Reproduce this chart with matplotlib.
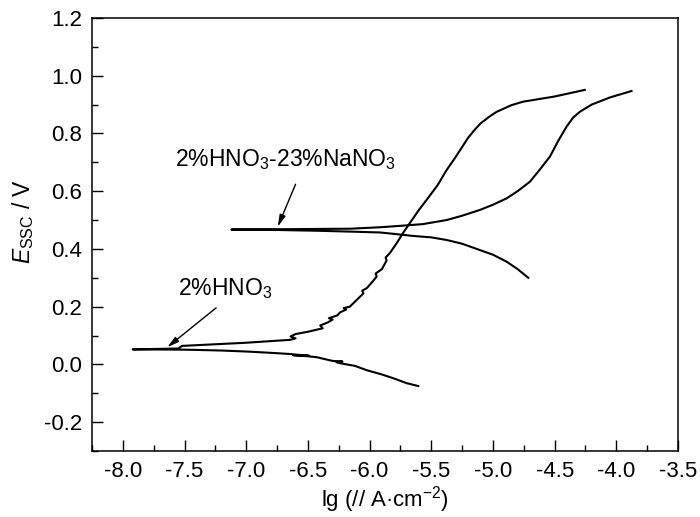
import matplotlib
matplotlib.use('Agg')
import matplotlib.pyplot as plt
from matplotlib.ticker import MultipleLocator, FormatStrFormatter

plt.rcParams['font.family'] = ['Liberation Sans', 'DejaVu Sans']
plt.rcParams['mathtext.fontset'] = 'custom'
plt.rcParams['mathtext.rm'] = 'Liberation Sans'
plt.rcParams['mathtext.it'] = 'Liberation Sans:italic'

# 2%HNO3: cathodic branch (from the end back to Ecorr) then anodic branch
hno3_x = [-5.606, -5.70, -5.808, -5.90, -6.024, -6.12, -6.24, -6.27, -6.22, -6.30,
          -6.43, -6.50, -6.62, -6.49, -6.60, -6.645, -6.80, -6.97, -7.2, -7.5, -7.92,
          -7.55, -7.52, -7.0, -6.645, -6.60, -6.64, -6.60, -6.50, -6.38, -6.40, -6.34,
          -6.30, -6.33, -6.26, -6.24, -6.19, -6.21, -6.16, -6.10, -6.05, -6.06, -6.02,
          -5.97, -5.943, -5.95, -5.90, -5.862, -5.87, -5.835, -5.78, -5.729, -5.673,
          -5.60, -5.511, -5.45, -5.376, -5.30, -5.203, -5.15, -5.10, -5.03, -4.97,
          -4.85, -4.757, -4.50, -4.255]
hno3_y = [-0.075, -0.065, -0.048, -0.035, -0.020, -0.005, 0.004, 0.008, 0.010, 0.012,
          0.025, 0.028, 0.032, 0.030, 0.034, 0.036, 0.040, 0.044, 0.048, 0.051, 0.052,
          0.055, 0.064, 0.075, 0.085, 0.090, 0.097, 0.105, 0.113, 0.125, 0.135, 0.145,
          0.155, 0.160, 0.170, 0.180, 0.190, 0.195, 0.200, 0.225, 0.246, 0.255, 0.265,
          0.290, 0.304, 0.315, 0.330, 0.360, 0.370, 0.386, 0.420, 0.455, 0.490,
          0.535, 0.585, 0.620, 0.673, 0.720, 0.784, 0.812, 0.835, 0.858, 0.875,
          0.898, 0.910, 0.928, 0.951]

# 2%HNO3-23%NaNO3
nano3_x = [-4.714, -4.80, -4.89, -5.0, -5.106, -5.25, -5.376, -5.5, -5.649, -5.80,
           -5.916, -6.16, -6.43, -6.8, -7.12,
           -6.5, -6.16, -5.916, -5.75, -5.567, -5.376, -5.25, -5.106, -5.0, -4.89,
           -4.80, -4.70, -4.62, -4.538, -4.47, -4.403, -4.35, -4.296, -4.2, -4.05, -3.877]
nano3_y = [0.300, 0.330, 0.356, 0.380, 0.396, 0.418, 0.431, 0.440, 0.445, 0.452,
           0.457, 0.460, 0.463, 0.466, 0.467,
           0.469, 0.470, 0.475, 0.480, 0.486, 0.500, 0.515, 0.535, 0.553, 0.575,
           0.600, 0.633, 0.675, 0.720, 0.775, 0.824, 0.855, 0.875, 0.900, 0.925, 0.947]

fig = plt.figure(figsize=(7, 5.17), dpi=100)
ax = fig.add_axes([0.1314, 0.1277, 0.8372, 0.8375])

ax.plot(hno3_x, hno3_y, color='black', lw=1.5)
ax.plot(nano3_x, nano3_y, color='black', lw=1.5)

arrow = dict(arrowstyle='-|>,head_length=0.7,head_width=0.18', color='black', lw=1)
ax.annotate('', xy=(-6.753, 0.468), xytext=(-6.591, 0.633), arrowprops=arrow)
ax.annotate('', xy=(-7.658, 0.053), xytext=(-7.226, 0.202), arrowprops=arrow)
ax.text(-6.678, 0.708, '2%HNO$_3$-23%NaNO$_3$', fontsize=16.5, ha='center', va='center')
ax.text(-7.172, 0.261, '2%HNO$_3$', fontsize=16.5, ha='center', va='center')

ax.set_xlim(-8.25, -3.5)
ax.set_ylim(-0.3, 1.2)
ax.xaxis.set_major_locator(MultipleLocator(0.5))
ax.xaxis.set_minor_locator(MultipleLocator(0.25))
ax.yaxis.set_major_locator(MultipleLocator(0.2))
ax.yaxis.set_minor_locator(MultipleLocator(0.1))
ax.xaxis.set_major_formatter(FormatStrFormatter('%.1f'))
ax.yaxis.set_major_formatter(FormatStrFormatter('%.1f'))
ax.tick_params(which='both', direction='in', labelsize=16, width=1)
ax.tick_params(which='major', length=8)
ax.tick_params(axis='x', which='major', pad=7)
ax.tick_params(axis='y', which='major', pad=7)
ax.tick_params(which='minor', length=4)
for s in ax.spines.values():
    s.set_linewidth(1.1)

ax.set_xlabel('lg (// A·cm$^{-2}$)', fontsize=16, labelpad=2)
ax.set_ylabel(r'$E_{\rm SSC}$ / V', fontsize=16.5, labelpad=4)
ax.yaxis.set_label_coords(-0.095, 0.53)

fig.savefig('out.png', dpi=100)
